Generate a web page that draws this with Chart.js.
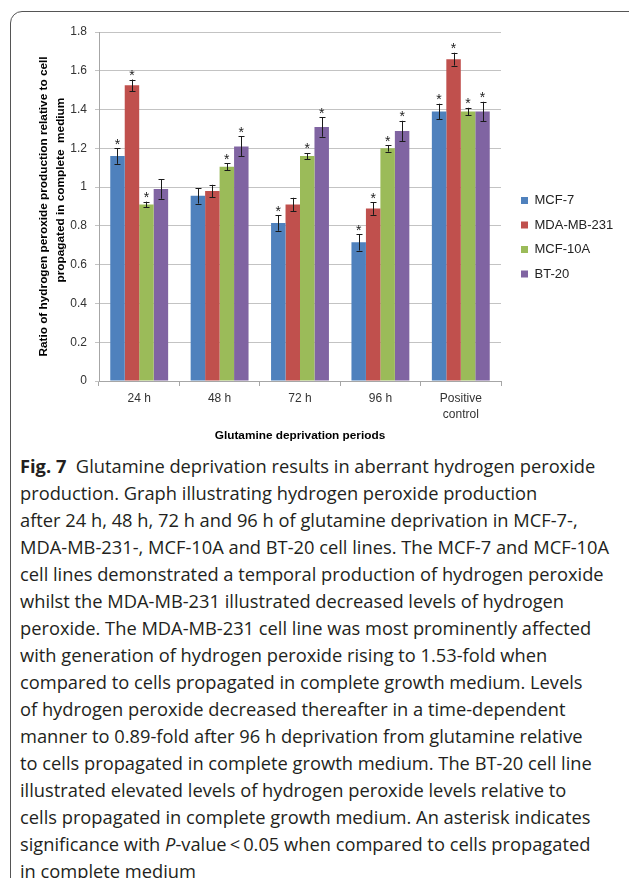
<!DOCTYPE html>
<html>
<head>
<meta charset="utf-8">
<title>Glutamine deprivation - hydrogen peroxide</title>
<script src="https://cdn.jsdelivr.net/npm/chart.js@4.4.1/dist/chart.umd.min.js"></script>
<style>
  html, body { margin: 0; padding: 0; background: #fff; width: 629px; height: 878px; overflow: hidden; }
  #frame { position: absolute; left: 10px; top: 11px; width: 680px; height: 940px; border: 1px solid #555; border-radius: 12px; }
  #wrap { position: absolute; left: 0; top: 0; width: 629px; height: 450px; }
  #caption { position: absolute; left: 20px; top: 452px; font-family: 'Open Sans', sans-serif; font-size: 18.3px; line-height: 27px; color: #231f20; white-space: nowrap; }
  #caption b { font-weight: 700; }
</style>
</head>
<body>
<div id="frame"></div>
<div id="wrap"><canvas id="h2o2Chart"></canvas></div>
<div id="caption"></div>

<script>
// categories (x axis)
var categories = [['24 h'], ['48 h'], ['72 h'], ['96 h'], ['Positive', 'control']];

// series values
var mcf7 = [1.16, 0.955, 0.815, 0.715, 1.39];
var mda231 = [1.525, 0.98, 0.91, 0.89, 1.66];
var mcf10a = [0.91, 1.105, 1.16, 1.2, 1.39];
var bt20 = [0.99, 1.21, 1.31, 1.29, 1.39];

// error bar half-lengths
var mcf7Err = [0.04, 0.04, 0.04, 0.042, 0.04];
var mda231Err = [0.03, 0.032, 0.035, 0.033, 0.033];
var mcf10aErr = [0.015, 0.017, 0.016, 0.017, 0.019];
var bt20Err = [0.05, 0.052, 0.05, 0.052, 0.05];

// asterisk = significant (P < 0.05)
var mcf7Sig = [1, 0, 1, 1, 1];
var mda231Sig = [1, 0, 0, 1, 1];
var mcf10aSig = [1, 1, 1, 1, 1];
var bt20Sig = [0, 1, 1, 1, 1];

var yTicks = [0, 0.2, 0.4, 0.6, 0.8, 1, 1.2, 1.4, 1.6, 1.8];

var captionLines = [
  'Glutamine deprivation results in aberrant hydrogen peroxide',
  'production. Graph illustrating hydrogen peroxide production',
  'after 24 h, 48 h, 72 h and 96 h of glutamine deprivation in MCF-7-,',
  'MDA-MB-231-, MCF-10A and BT-20 cell lines. The MCF-7 and MCF-10A',
  'cell lines demonstrated a temporal production of hydrogen peroxide',
  'whilst the MDA-MB-231 illustrated decreased levels of hydrogen',
  'peroxide. The MDA-MB-231 cell line was most prominently affected',
  'with generation of hydrogen peroxide rising to 1.53-fold when',
  'compared to cells propagated in complete growth medium. Levels',
  'of hydrogen peroxide decreased thereafter in a time-dependent',
  'manner to 0.89-fold after 96 h deprivation from glutamine relative',
  'to cells propagated in complete growth medium. The BT-20 cell line',
  'illustrated elevated levels of hydrogen peroxide levels relative to',
  'cells propagated in complete growth medium. An asterisk indicates',
  'significance with <i>P</i>-value\u2009&lt;\u20090.05 when compared to cells propagated',
  'in complete medium'
];

var COLORS = {
  blue: '#4f81bd',
  red: '#c0504d',
  green: '#9bbb59',
  purple: '#8064a2',
};

var AXIS_FONT = "'Liberation Sans', Arial, sans-serif";

/**
 * Error bars drawn from the err arrays through the y scale.
 */
var errorBarPlugin = {
  id: 'errorBars',
  afterDatasetsDraw: function (chart) {
    var ctx = chart.ctx;
    var yScale = chart.scales.y;
    ctx.save();
    ctx.strokeStyle = '#1a1a1a';
    ctx.lineWidth = 1;
    chart.data.datasets.forEach(function (ds, di) {
      var meta = chart.getDatasetMeta(di);
      meta.data.forEach(function (bar, i) {
        var v = ds.data[i];
        var e = ds.errors[i];
        var x = Math.round(bar.x) + 0.5;
        var yTop = yScale.getPixelForValue(v + e);
        var yBot = yScale.getPixelForValue(v - e);
        ctx.beginPath();
        ctx.moveTo(x, yTop);
        ctx.lineTo(x, yBot);
        ctx.moveTo(x - 3, Math.round(yTop) + 0.5);
        ctx.lineTo(x + 3, Math.round(yTop) + 0.5);
        ctx.moveTo(x - 3, Math.round(yBot) + 0.5);
        ctx.lineTo(x + 3, Math.round(yBot) + 0.5);
        ctx.stroke();

        // significance asterisk
        if (ds.sig[i]) {
          ctx.fillStyle = '#222';
          ctx.font = '14px ' + AXIS_FONT;
          ctx.textAlign = 'center';
          ctx.textBaseline = 'alphabetic';
          ctx.fillText('*', bar.x, yTop + 0.5);
        }
      });
    });
    ctx.restore();
  },
};

/**
 * Move the legend to where the figure has it (right of plot, mid height).
 */
var legendPlacePlugin = {
  id: 'legendPlace',
  afterLayout: function (chart) {
    var lg = chart.legend;
    if (!lg) return;
    var pad = lg.options.labels.padding;
    lg.left = 521 - pad;
    lg.right = chart.width;
    lg.top = 194 - pad;
    lg.bottom = chart.height;
  },
};

function makeDataset(label, values, errors, sig, color) {
  return {
    label: label,
    data: values,
    errors: errors,
    sig: sig,
    backgroundColor: color,
    borderWidth: 0,
    categoryPercentage: 0.72,
    barPercentage: 1.0,
  };
}

var ctx = document.getElementById('h2o2Chart');

new Chart(ctx, {
  type: 'bar',
  data: {
    labels: categories,
    datasets: [
      makeDataset('MCF-7', mcf7, mcf7Err, mcf7Sig, COLORS.blue),
      makeDataset('MDA-MB-231', mda231, mda231Err, mda231Sig, COLORS.red),
      makeDataset('MCF-10A', mcf10a, mcf10aErr, mcf10aSig, COLORS.green),
      makeDataset('BT-20', bt20, bt20Err, bt20Sig, COLORS.purple),
    ],
  },
  options: {
    responsive: true,
    maintainAspectRatio: false,
    animation: false,
    layout: { padding: { top: 32, left: 0, right: 128, bottom: 7 } },
    plugins: {
      legend: {
        position: 'chartArea',
        align: 'start',
        labels: {
          color: '#222',
          font: { family: AXIS_FONT, size: 13 },
          boxWidth: 7,
          boxHeight: 7,
          padding: 11.5,
        },
      },
      tooltip: { enabled: false },
    },
    scales: {
      x: {
        grid: {
          display: true,
          drawOnChartArea: false,
          drawTicks: true,
          tickLength: 5,
          color: '#a6a6a6',
          offset: true,
        },
        border: { color: '#a6a6a6' },
        ticks: {
          color: '#333',
          padding: 5,
          font: { family: AXIS_FONT, size: 12, lineHeight: 16 / 12 },
          maxRotation: 0,
        },
        title: {
          display: true,
          text: 'Glutamine deprivation periods',
          color: '#000',
          font: { family: AXIS_FONT, size: 11.8, weight: 'bold', lineHeight: 14 / 11.8 },
          padding: { top: 0, bottom: 0 },
        },
        afterFit: function (scale) { scale.height = 62; },
      },
      y: {
        min: 0,
        max: 1.8,
        afterBuildTicks: function (scale) {
          scale.ticks = yTicks.map(function (v) { return { value: v }; });
        },
        grid: {
          color: '#c3c3c3',
          tickLength: 4,
          drawTicks: true,
        },
        border: { color: '#a6a6a6' },
        ticks: {
          color: '#333',
          padding: 8,
          font: { family: AXIS_FONT, size: 12 },
          callback: function (value) {
            return String(Math.round(value * 10) / 10);
          },
        },
        title: {
          display: true,
          text: [
            'Ratio of hydrogen peroxide production relative to cell',
            '          propagated in complete  medium',
          ],
          color: '#000',
          font: { family: AXIS_FONT, size: 11.8, weight: 'bold', lineHeight: 17 / 11.8 },
          padding: { top: 35, bottom: 0 },
        },
        afterFit: function (scale) { scale.width = 99; },
      },
    },
  },
  plugins: [errorBarPlugin, legendPlacePlugin],
});

// caption text as real text
var cap = document.getElementById('caption');
cap.innerHTML = captionLines.map(function (line, i) {
  var prefix = i === 0 ? '<b>Fig. 7</b>&nbsp;&nbsp;' : '';
  return '<div>' + prefix + line + '</div>';
}).join('');
</script>
</body>
</html>
